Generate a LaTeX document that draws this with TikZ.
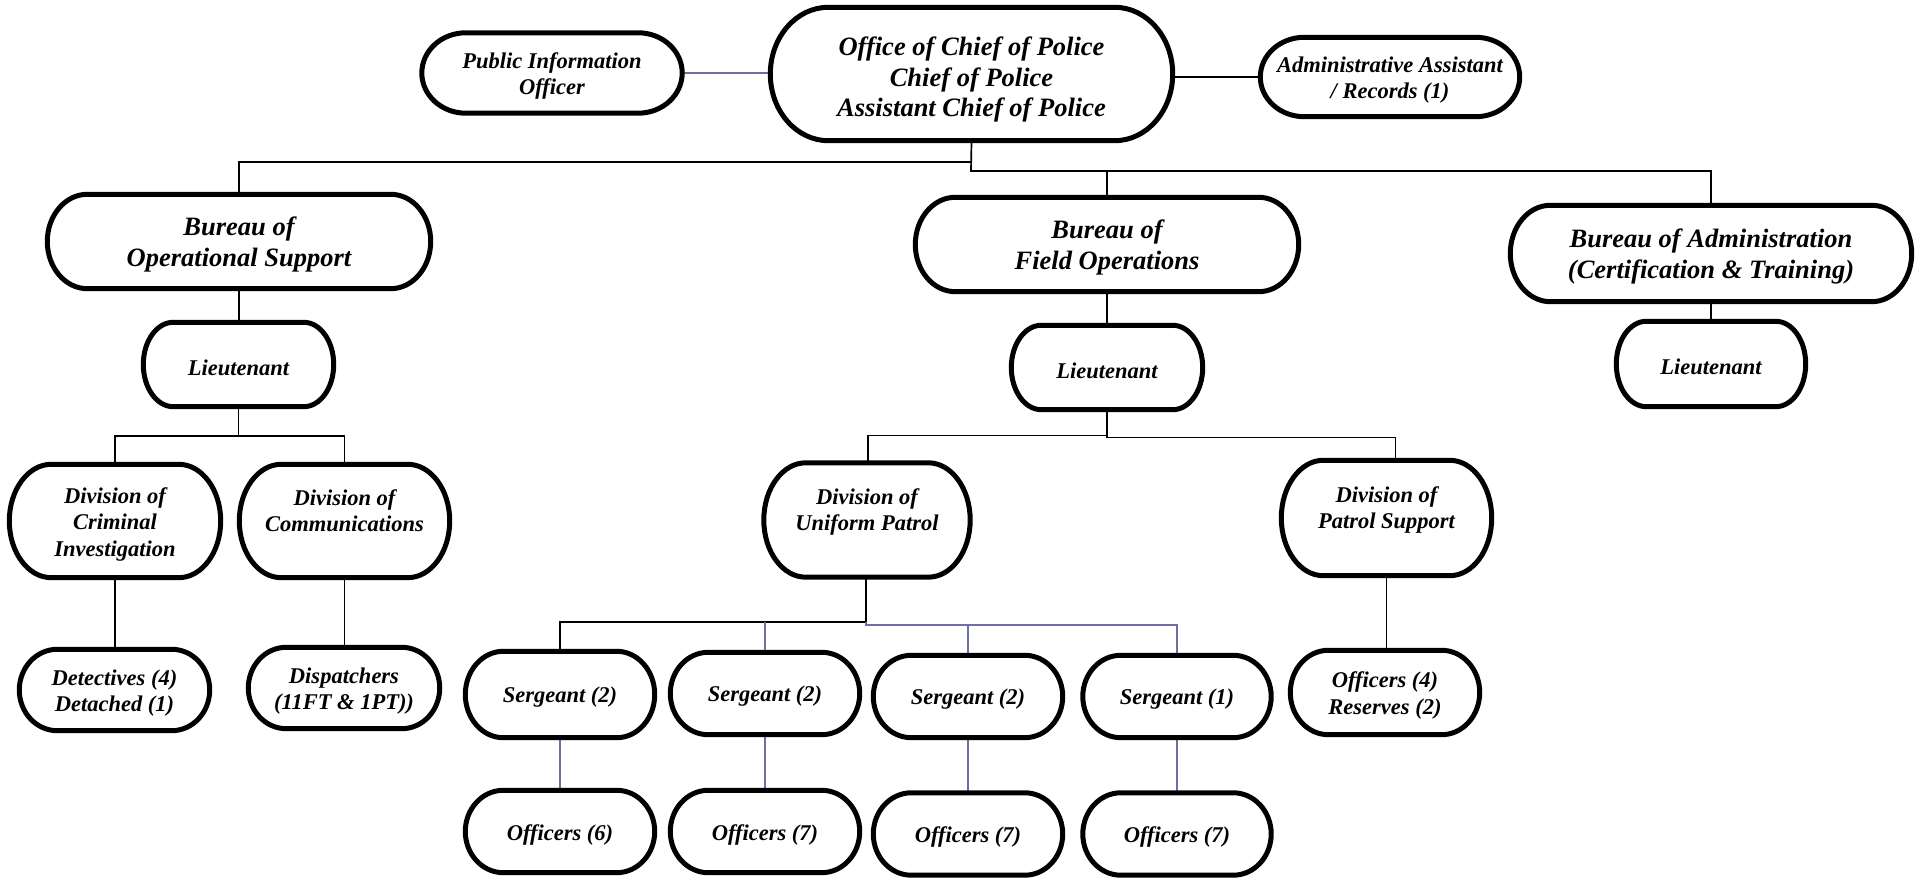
\documentclass[tikz,border=0pt]{standalone}
\usepackage{fontspec}
\setmainfont{Liberation Serif}
\usetikzlibrary{calc}
\definecolor{bl}{RGB}{110,110,165}
\tikzset{
  sm/.style={inner sep=0pt, align=center, yshift=-3pt, font=\fontsize{22.5}{26.5}\selectfont\bfseries\itshape},
  bg/.style={inner sep=0pt, align=center, yshift=-3pt, font=\fontsize{26.5}{30.5}\selectfont\bfseries\itshape},
  shp/.style 2 args={inner sep=0pt, minimum width=#1pt, minimum height=#2pt},
  st/.style={label={[sm]center:{#1}}},
  bt/.style={label={[bg]center:{#1}}},
  boxline/.style={line width=5pt, black},
  cl/.style={line width=1.7pt, black},
  bline/.style={line width=1.7pt, bl},
}
\newcommand\capsule[2][38]{%
  \draw[boxline] let \p1=(#2.north west), \p2=(#2.south east), \n1={0.5*(\y1-\y2)} in
  (\x1+#1pt,\y1) -- (\x2-#1pt,\y1) arc[start angle=90,end angle=-90,x radius=#1pt,y radius=\n1]
  -- (\x1+#1pt,\y2) arc[start angle=270,end angle=90,x radius=#1pt,y radius=\n1] -- cycle;}
\begin{document}
\begin{tikzpicture}[x=1pt,y=1pt]
\fill[white] (0,0) rectangle (1919,878);
\useasboundingbox (0,0) rectangle (1919,878);
% nodes
\node[shp={260}{80}, st={Public Information\\Officer}] (pio) at (552,805) {};
\node[shp={402}{133}, label={[bg,yshift=-3pt]center:{Office of Chief of Police\\Chief of Police\\Assistant Chief of Police}}] (chief) at (971.5,804) {};
\node[shp={259}{79}, st={Administrative Assistant\\/ Records (1)}] (admin) at (1390,801) {};
\node[shp={383}{94}, bt={Bureau of\\Operational Support}] (bos) at (239,636.5) {};
\node[shp={383}{94}, bt={Bureau of\\Field Operations}] (bfo) at (1107,633.5) {};
\node[shp={401}{96}, bt={Bureau of Administration\\(Certification \& Training)}] (ba) at (1711,624.5) {};
\node[shp={190}{84}, st={Lieutenant}] (lt1) at (238.5,513.5) {};
\node[shp={191}{84}, st={Lieutenant}] (lt2) at (1107,510.5) {};
\node[shp={189}{85}, st={Lieutenant}] (lt3) at (1711,514) {};
\node[shp={211}{113}, st={Division of\\Criminal\\Investigation}] (dci) at (115,357) {};
\node[shp={210}{113}, st={Division of\\Communications\\\mbox{}}] (dcomm) at (344.5,357) {};
\node[shp={206}{114}, st={Division of\\Uniform Patrol\\\mbox{}}] (dup) at (867,358) {};
\node[shp={210}{115}, st={Division of\\Patrol Support\\\mbox{}}] (dps) at (1386.5,360) {};
\node[shp={190}{81}, st={Detectives (4)\\Detached (1)}] (det) at (114.5,188) {};
\node[shp={191}{81}, st={Dispatchers\\(11FT \& 1PT))}] (disp) at (344,190) {};
\node[shp={189}{86}, st={Sergeant (2)}] (s1) at (560,183.5) {};
\node[shp={189}{82}, st={Sergeant (2)}] (s2) at (765,184.5) {};
\node[shp={189}{82}, st={Sergeant (2)}] (s3) at (968,181.5) {};
\node[shp={188}{82}, st={Sergeant (1)}] (s4) at (1177,181.5) {};
\node[shp={189}{82}, st={Officers (6)}] (o1) at (560,46.5) {};
\node[shp={189}{82}, st={Officers (7)}] (o2) at (765,46.5) {};
\node[shp={189}{82}, st={Officers (7)}] (o3) at (968,44) {};
\node[shp={188}{82}, st={Officers (7)}] (o4) at (1177,44) {};
\node[shp={189}{84}, st={Officers (4)\\Reserves (2)}] (ops) at (1385,185.5) {};
% junctions
\coordinate (t1) at (971,716);
\coordinate (t2) at (971,707);
\coordinate (l1) at (238.5,442);
\coordinate (l2) at (1107,442.5);
\coordinate (l2b) at (1107,440.5);
\coordinate (u1) at (866,256);
\coordinate (u2) at (866,253);
% connectors
\draw[bline] (pio.east) -- (pio.east -| chief.west);
\draw[cl] (chief.east |- admin.west) -- (admin.west);
\draw[cl] (chief.south) -- (t2) -| (ba.north);
\draw[cl] (t2) -| (bfo.north);
\draw[cl] (t1) -| (bos.north);
\draw[cl] (bos.south) -- (bos.south |- lt1.north);
\draw[cl] (lt1.south) -- (l1);
\draw[cl] (dci.north) |- (l1) -| (dcomm.north);
\draw[cl] (dci.south) -- (dci.south |- det.north);
\draw[cl] (dcomm.south) -- (dcomm.south |- disp.north);
\draw[cl] (bfo.south) -- (lt2.north);
\draw[cl] (ba.south) -- (lt3.north);
\draw[cl] (lt2.south) -- (l2b) -| ([xshift=9pt]dps.north);
\draw[cl] (l2) -| ([xshift=1pt]dup.north);
\draw[cl] ([xshift=-1pt]dup.south) -- (u1) -| (s1.north);
\draw[bline] (u1) -- (u2) -| (s4.north);
\draw[bline] (u2) -| (s3.north);
\draw[bline] (s2.north) -- (s2.north |- u1);
\draw[bline] (s1.south) -- (o1.north);
\draw[bline] (s2.south) -- (o2.north);
\draw[bline] (s3.south) -- (o3.north);
\draw[bline] (s4.south) -- (o4.north);
\draw[cl] (dps.south) -- (dps.south |- ops.north);
% box outlines
\capsule[44]{pio}
\capsule[58]{chief}
\capsule[44]{admin}
\capsule[40]{bos}
\capsule[40]{bfo}
\capsule[40]{ba}
\capsule[30]{lt1}
\capsule[30]{lt2}
\capsule[30]{lt3}
\capsule[42]{dci}
\capsule[42]{dcomm}
\capsule[42]{dup}
\capsule[42]{dps}
\capsule[38]{det}
\capsule[38]{disp}
\capsule[38]{s1}
\capsule[38]{s2}
\capsule[38]{s3}
\capsule[38]{s4}
\capsule[38]{o1}
\capsule[38]{o2}
\capsule[38]{o3}
\capsule[38]{o4}
\capsule[38]{ops}
\end{tikzpicture}
\end{document}
